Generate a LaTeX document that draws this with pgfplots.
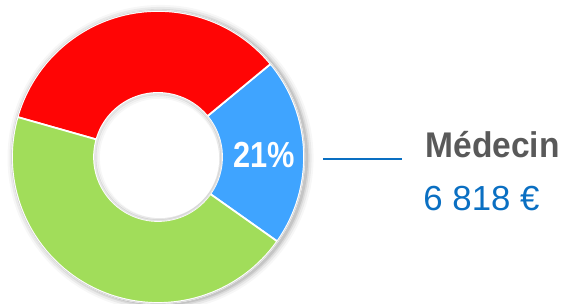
\documentclass[border=0pt]{standalone}
\usepackage{pgfplots}
\usepackage{pgfplotstable}
\pgfplotsset{compat=1.18}
\usepackage{fontspec}
\setmainfont{Liberation Sans}
\newfontfamily\narrow{Liberation Sans}[FakeStretch=0.85]
\newfontfamily\semi{Liberation Sans}[FakeStretch=0.94]
\definecolor{cblue}{HTML}{3FA4FF}
\definecolor{cred}{HTML}{FF0505}
\definecolor{cgreen}{HTML}{A1DD5A}
\definecolor{tblue}{HTML}{0A6FC2}
\definecolor{tgray}{HTML}{595959}

\pgfplotstableread{
share color
20.8 cblue
34.6 cred
44.6 cgreen
}\sharetable

\begin{document}
\begin{tikzpicture}
\path[use as bounding box, clip] (0,0) rectangle (11.32cm,6.06cm);
\begin{axis}[x=0.02cm,y=0.02cm,xmin=0,xmax=566,ymin=0,ymax=303,hide axis,clip=false]
\addplot[draw=none] coordinates {(0,0) (566,303)};
\pgfplotsextra{
  \def\R{146}\def\r{64}\def\cx{158}\def\cy{146}
  % soft drop shadow
  \foreach \i/\o in {7/0.03,5/0.05,3/0.07,1.5/0.09} {
    \fill[black,opacity=\o] (axis cs:{\cx+2.5},{\cy-1}) circle[radius=(\R+\i)*0.02cm];
  }
  \fill[white] (axis cs:\cx,\cy) circle[radius=(\R+1)*0.02cm];
  \pgfplotstablegetrowsof{\sharetable}
  \pgfmathtruncatemacro\nrows{\pgfplotsretval-1}
  \xdef\cur{-35.3}
  \foreach \k in {0,...,\nrows}{
    \pgfplotstablegetelem{\k}{share}\of\sharetable \let\sh\pgfplotsretval
    \pgfplotstablegetelem{\k}{color}\of\sharetable \let\col\pgfplotsretval
    \pgfmathsetmacro\a{\cur}
    \pgfmathsetmacro\b{\cur+3.6*\sh}
    \fill[fill=\col, draw=white, line width=1pt, line join=round]
      (axis cs:{\cx+\R*cos(\a)},{\cy+\R*sin(\a)})
      arc[start angle=\a, end angle=\b, radius=\R*0.02cm]
      -- (axis cs:{\cx+\r*cos(\b)},{\cy+\r*sin(\b)})
      arc[start angle=\b, end angle=\a, radius=\r*0.02cm] -- cycle;
    \xdef\cur{\b}
  }
  \draw[black!15, line width=0.5pt] (axis cs:\cx,\cy) circle[radius=(\R+0.5)*0.02cm];
  % hole with faint inner shadow
  \fill[white] (axis cs:\cx,\cy) circle[radius=(\r-0.5)*0.02cm];
  \foreach \i/\o in {1/0.10,2.5/0.06,4/0.03} {
    \draw[black,opacity=\o,line width=1.2pt] (axis cs:{\cx+0.2*\i},{\cy-0.2*\i}) circle[radius=(\r-\i)*0.02cm];
  }
  \fill[white] (axis cs:{\cx+2},{\cy-2}) circle[radius=(\r-5)*0.02cm];
  \node[anchor=base, text=white, font=\narrow\bfseries\fontsize{20.6}{22}\selectfont] at (axis cs:264.5,135) {21\%};
  \draw[tblue, line width=1.2pt] (axis cs:323,144) -- (axis cs:402,144);
  \node[anchor=base west, inner sep=0pt, text=tgray, font=\semi\bfseries\fontsize{20.3}{22}\selectfont] at (axis cs:425,145) {Médecin};
  \node[anchor=base west, inner sep=0pt, text=tblue, font=\fontsize{19.8}{22}\selectfont] at (axis cs:423,92) {6~818~€};
}
\end{axis}
\end{tikzpicture}
\end{document}
